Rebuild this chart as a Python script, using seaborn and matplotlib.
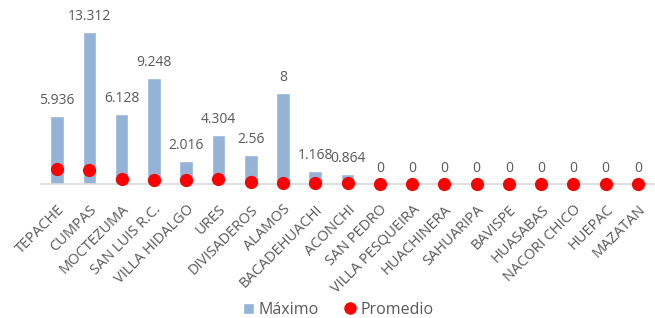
import seaborn as sns
import pandas as pd
import matplotlib.pyplot as plt
from matplotlib.patches import Patch
from matplotlib.lines import Line2D

municipios = ["TEPACHE", "CUMPAS", "MOCTEZUMA", "SAN LUIS R.C.", "VILLA HIDALGO",
              "URES", "DIVISADEROS", "ALAMOS", "BACADEHUACHI", "ACONCHI",
              "SAN PEDRO", "VILLA PESQUEIRA", "HUACHINERA", "SAHUARIPA", "BAVISPE",
              "HUASABAS", "NACORI CHICO", "HUEPAC", "MAZATAN"]
maximo = [5.936, 13.312, 6.128, 9.248, 2.016, 4.304, 2.56, 8, 1.168, 0.864,
          0, 0, 0, 0, 0, 0, 0, 0, 0]
promedio = [1.29, 1.23, 0.47, 0.35, 0.38, 0.40, 0.20, 0.11, 0.11, 0.08,
            0, 0, 0, 0, 0, 0, 0, 0, 0]
etiquetas = ["5.936", "13.312", "6.128", "9.248", "2.016", "4.304", "2.56", "8",
             "1.168", "0.864", "0", "0", "0", "0", "0", "0", "0", "0", "0"]

data = pd.DataFrame({"municipio": municipios, "maximo": maximo, "promedio": promedio})

sns.set_style("white")
plt.rcParams["font.family"] = ["Open Sans", "DejaVu Sans"]
gris = "#595959"
azul = "#95B3D7"

fig = plt.figure(figsize=(6.55, 3.18), dpi=100)
ax = fig.add_axes([0.0626, 0.4214, 0.936, 0.503])

sns.barplot(data=data, x="municipio", y="maximo", color=azul, width=0.42,
            saturation=1, ax=ax, zorder=2)
sns.stripplot(data=data, x="municipio", y="promedio", color="red", size=9.5,
              jitter=False, ax=ax, zorder=4, clip_on=False, linewidth=0)

for i, (v, t) in enumerate(zip(maximo, etiquetas)):
    ax.text(i, v + 0.7, t, ha="center", va="bottom", fontsize=10, color=gris,
            clip_on=False)

ax.set_xlim(-0.5, len(municipios) - 0.5)
ax.set_ylim(0, 14)
ax.set_yticks([])
ax.set_xlabel("")
ax.set_ylabel("")
for s in ["top", "right", "left"]:
    ax.spines[s].set_visible(False)
ax.spines["bottom"].set_color("#d9d9d9")
ax.spines["bottom"].set_linewidth(1.2)
ax.tick_params(axis="x", length=0, pad=13)
plt.setp(ax.get_xticklabels(), rotation=45, ha="right", rotation_mode="anchor",
         fontsize=10.5, color=gris)

handles = [Patch(facecolor=azul, label="Máximo"),
           Line2D([], [], marker="o", color="red", linestyle="", markersize=8,
                  label="Promedio")]
fig.legend(handles=handles, loc="center", bbox_to_anchor=(0.516, 0.025), ncol=2,
           frameon=False, fontsize=11.5, labelcolor=gris, handlelength=0.7,
           handleheight=0.7, handletextpad=0.3, columnspacing=1.6)

fig.savefig("out.png", dpi=100)
